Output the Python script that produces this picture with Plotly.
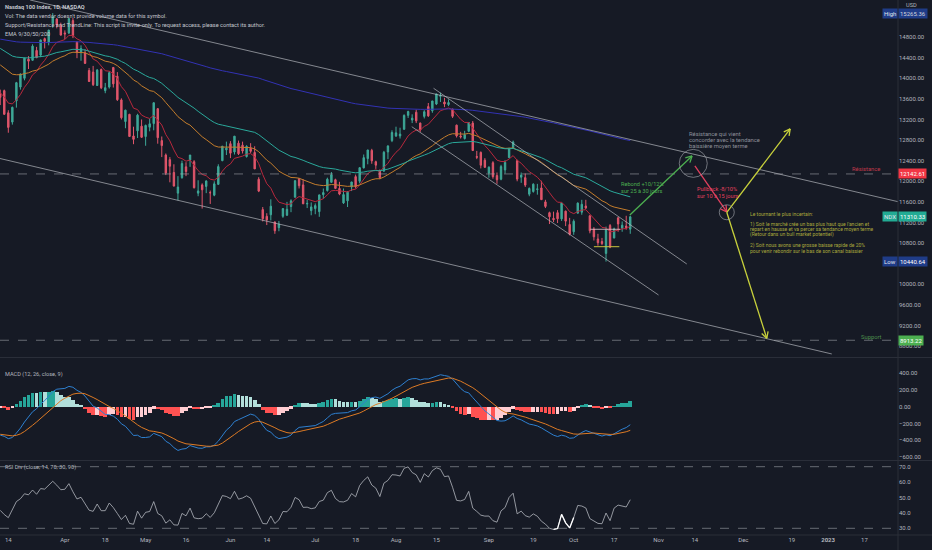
import math
import numpy as np
import pandas as pd
import plotly.graph_objects as go

# Nasdaq 100 (NDX), 1D : valeurs estimées sur la capture
holidays = ["2022-04-15", "2022-05-30", "2022-06-20", "2022-07-04", "2022-09-05",
            "2022-11-24", "2022-12-26", "2023-01-02", "2023-01-16"]
first_day = "2022-03-10"

opens = [13700, 13760,
         13330, 13150, 13560, 13830, 14000,
         14370, 14350, 14540, 14450, 14770,
         14700, 15060, 15150, 15030, 14880,
         14880, 15120, 14700, 14500, 14490,
         14150, 14120, 13860, 14170,
         13760, 13830, 14210, 14040, 13580,
         13160, 13300, 12880, 12980, 13070,
         12870, 13050, 13120, 13410, 12790,
         12510, 12420, 12170, 11770, 12070,
         12280, 12410, 12380, 11770, 11930,
         11900, 11780, 11730, 11940, 12400,
         12610, 12730, 12570, 12740,
         12700, 12480, 12640, 12560, 12040,
         11450, 11320, 11350, 11210, 11100,
         11320, 11340, 11510, 11690,
         12050, 11930, 11560, 11430, 11470,
         11410, 11740, 11820, 11980,
         12030, 11860, 11580, 11620, 11890,
         12090, 12000, 12260, 12440, 12600,
         12380, 12210, 12200, 12570, 12790,
         12880, 12880, 13010, 13280, 13190,
         13340, 13130, 13260, 13450, 13370,
         13500, 13650, 13540, 13490, 13400,
         13090, 12880, 12830, 12970, 13130,
         12480, 12560, 12410, 12160, 12360,
         12110, 12040, 12220, 12460,
         12650, 12400, 12080, 12070, 11750,
         11800, 11840, 11870, 11600, 11390,
         11280, 11390, 11270, 11420, 11160,
         11020, 11380, 11400, 11520, 11330,
         11070, 10880, 10830, 10600, 11140,
         10900, 11290, 11090, 11130, 11070]
highs = [13780, 13780,
         13380, 13450, 13930, 14090, 14400,
         14430, 14660, 14610, 14750, 14790,
         14940, 15265.36, 15170, 15080, 14930,
         15170, 15170, 14720, 14640, 14560,
         14200, 14240, 14180, 14190,
         13910, 14140, 14220, 14120, 13610,
         13390, 13310, 13060, 13310, 13200,
         13100, 13210, 13530, 13420, 12870,
         12540, 12470, 12330, 12100, 12400,
         12370, 12510, 12410, 12020, 11960,
         12020, 11820, 12000, 12330, 12685,
         12770, 12780, 12880, 12790,
         12770, 12700, 12740, 12680, 12080,
         11500, 11380, 11650, 11220, 11230,
         11480, 11600, 11650, 12020,
         12060, 12040, 11640, 11590, 11570,
         11740, 11860, 12070, 12180,
         12050, 11990, 11860, 11810, 11990,
         12130, 12270, 12520, 12610, 12630,
         12400, 12230, 12590, 12700, 12990,
         13060, 13040, 13300, 13370, 13300,
         13390, 13140, 13380, 13520, 13560,
         13700, 13720, 13620, 13590, 13410,
         13100, 12960, 12980, 13150, 13170,
         12590, 12580, 12450, 12290, 12390,
         12170, 12320, 12410, 12650,
         12790, 12420, 12170, 12150, 11880,
         11960, 11950, 12010, 11640, 11410,
         11410, 11440, 11580, 11430, 11290,
         11260, 11590, 11640, 11640, 11340,
         11110, 10980, 10900, 11120, 11170,
         11100, 11300, 11220, 11330, 11330]
lows = [13480, 13290,
        12943, 13100, 13430, 13780, 13960,
        14180, 14340, 14390, 14410, 14580,
        14640, 14980, 14970, 14830, 14760,
        14860, 14780, 14390, 14340, 14280,
        13930, 13850, 13850, 13790,
        13710, 13800, 13820, 13560, 13200,
        13030, 12860, 12720, 12840, 12840,
        12690, 12970, 12990, 12730, 12470,
        12120, 11980, 11900, 11630, 12050,
        12100, 12280, 11860, 11710, 11470,
        11770, 11560, 11710, 11930, 12390,
        12510, 12450, 12520, 12510,
        12540, 12460, 12550, 12240, 11790,
        11220, 11150, 11240, 10980, 11030,
        11290, 11330, 11400, 11690,
        11860, 11560, 11480, 11340, 11360,
        11310, 11660, 11800, 11970,
        11850, 11730, 11560, 11500, 11810,
        11860, 11960, 12250, 12330, 12340,
        12240, 12040, 12180, 12430, 12760,
        12860, 12830, 13000, 13230, 13130,
        13130, 12960, 13220, 13250, 13330,
        13480, 13540, 13440, 13460, 13230,
        12850, 12830, 12810, 12960, 12590,
        12430, 12250, 12260, 12070, 12050,
        11950, 12020, 12150, 12460,
        12640, 12000, 11970, 11890, 11710,
        11780, 11740, 11640, 11480, 11170,
        11210, 11190, 11230, 11130, 10950,
        10960, 11380, 11350, 11460, 10990,
        10850, 10750, 10760, 10440.64, 10700,
        10890, 11020, 11020, 11060, 10980]
closes = [13630, 13301,
          13046, 13436, 13915, 14084, 14392,
          14333, 14624, 14401, 14745, 14717,
          14936, 15198, 15034, 14838, 14862,
          15158, 14826, 14500, 14577, 14289,
          13937, 13875, 14159, 13815,
          13817, 14108, 13891, 13584, 13234,
          13381, 12870, 12814, 13284, 12855,
          13085, 13116, 13525, 12847, 12693,
          12161, 12293, 11907, 11888, 12344,
          12188, 12510, 11875, 11813, 11835,
          12005, 11777, 11950, 12285, 12682,
          12642, 12546, 12876, 12535,
          12588, 12678, 12582, 12240, 11809,
          11274, 11250, 11516, 11040, 11167,
          11470, 11456, 11620, 12012,
          11913, 11562, 11570, 11503, 11528,
          11736, 11780, 12040, 12125,
          11862, 11752, 11742, 11789, 11987,
          11896, 12264, 12459, 12608, 12397,
          12313, 12072, 12563, 12685, 12947,
          12940, 12916, 13279, 13354, 13225,
          13173, 12995, 13350, 13270, 13560,
          13696, 13665, 13500, 13528, 13261,
          12881, 12862, 12903, 13141, 12597,
          12466, 12312, 12272, 12274, 12090,
          12030, 12285, 12367, 12638,
          12763, 12042, 12120, 11926, 11861,
          11944, 11852, 11643, 11512, 11311,
          11255, 11272, 11576, 11226, 10971,
          11225, 11576, 11553, 11482, 11038,
          10922, 10806, 10791, 11053, 10720,
          11075, 11171, 11147, 11103, 11310.33]

# valeurs des indicateurs lues au bord gauche (10 mars)
ema_start = {9: 13720, 30: 14260, 50: 14580, 200: 14760}
macd_start = {"fast": 13800, "slow": 14140, "signal": -330}
rsi_start = {"gain": 150, "loss": 210}

tick_dates = ["2022-03-14", "2022-04-01", "2022-04-18", "2022-05-02", "2022-05-16", "2022-06-01",
              "2022-06-14", "2022-07-01", "2022-07-18", "2022-08-01", "2022-08-15", "2022-09-01",
              "2022-09-19", "2022-10-03", "2022-10-17", "2022-11-01", "2022-11-14", "2022-12-01",
              "2022-12-19", "2023-01-03", "2023-01-17"]
tick_text = ["14", "Apr", "18", "May", "16", "Jun", "14", "Jul", "18", "Aug", "15", "Sep",
             "19", "Oct", "17", "Nov", "14", "Dec", "19", "<b>2023</b>", "17"]

price_ticks = [8800, 9200, 9600, 10000, 10400, 10800, 11200, 11600, 12000, 12400,
               12800, 13200, 13600, 14000, 14400, 14800]
macd_ticks = [400, 200, 0, -200, -400, -600]
rsi_ticks = [70, 60, 50, 40, 30]

resistance = 12142.61
support = 8913.22
high_val = 15265.36
low_val = 10440.64

# tracés (numéro de bougie depuis le 14 mars, prix)
trend_lines = [(5.4, 15520, 220.3, 11604),
               (-2.1, 12443, 203.9, 8647),
               (105.3, 13806, 168.0, 10394),
               (99.9, 13060, 161.0, 9792)]
arrows = [(153.9, 11346, 169.3, 12491, "#4caf50"),
          (170.0, 12297, 177.9, 11404, "#e2405e"),
          (177.9, 11398, 193.6, 13016, "#c9d23c"),
          (177.9, 11398, 187.8, 8951, "#c9d23c")]
circles = [(169.6, 12348, 14), (177.9, 11398, 7.5)]
small_levels = [(144.1, 151.5, 11068, "rgba(230,200,210,0.8)"),
                (145.0, 151.3, 10730, "#c9c23c")]
rsi_div = ["2022-09-26", "2022-10-03"]   # segment surligné (divergence)

note_resistance = ["Résistance qui vient", "concorder avec la tendance", "baissière moyen terme"]
note_resistance_y = [12912, 12802, 12691]
note_rebond = ["Rebond +10/12%", "sur 25 à 30 jours"]
note_rebond_y = [11938, 11812]
note_pullback = ["Pullback -8/10%", "sur 10 à 15 jours"]
note_pullback_y = [11841, 11715]
note_scenarios = ["Le tournant le plus incertain:",
                  "1) Soit le marché crée un bas plus haut que l'ancien et",
                  "repart en hausse et va percer sa tendance moyen terme",
                  "(Retour dans un bull market potentiel)",
                  "2) Soit nous avons une grosse baisse rapide de 20%",
                  "pour venir rebondir sur le bas de son canal baissier"]
note_scenarios_y = [11359, 11165, 11068, 10971, 10749, 10646]


BG = "#161a25"
W, H = 932, 550
PLOT_W, MAIN_H = 898, 357
X_RANGE = [-2.06, 220.3]
Y_RANGE = [8588, 15520]

cal = pd.bdate_range(first_day, "2023-01-31", freq="C", holidays=holidays)
pos = {d: k - 2 for k, d in enumerate(cal)}
n = len(closes)
xs = [pos[d] for d in cal[:n]]
tickvals = [pos[pd.Timestamp(d)] for d in tick_dates]


def ema(values, start, span):
    a = 2 / (span + 1)
    out = [start]
    for v in values[1:]:
        out.append(out[-1] + a * (v - out[-1]))
    return out


def rsi(values, g, l, period=14):
    out = [100 - 100 / (1 + g / l)]
    for a, b in zip(values[:-1], values[1:]):
        d = b - a
        g = (g * (period - 1) + max(d, 0)) / period
        l = (l * (period - 1) + max(-d, 0)) / period
        out.append(100 - 100 / (1 + g / l))
    return out


fast = ema(closes, macd_start["fast"], 12)
slow = ema(closes, macd_start["slow"], 26)
macd = [f - s for f, s in zip(fast, slow)]
signal = ema(macd, macd_start["signal"], 9)
hist = [m - s for m, s in zip(macd, signal)]
hist_col = []
for k, h in enumerate(hist):
    prev = hist[k - 1] if k else h
    if h >= 0:
        hist_col.append("#26a69a" if h >= prev else "#b2dfdb")
    else:
        hist_col.append("#ff5252" if h < prev else "#ffcdd2")
rsi_vals = rsi(closes, rsi_start["gain"], rsi_start["loss"])

fig = go.Figure()
fig.add_trace(go.Candlestick(
    x=xs, open=opens, high=highs, low=lows, close=closes,
    increasing=dict(line=dict(color="#3ea898", width=1), fillcolor="#3ea898"),
    decreasing=dict(line=dict(color="#e0566b", width=1), fillcolor="#e0566b"),
    xaxis="x", yaxis="y", hoverinfo="skip"))

ema_cols = {9: "#b8283d", 30: "#c47d2c", 50: "#2aa99b", 200: "#3232b4"}
for span, col in ema_cols.items():
    fig.add_trace(go.Scatter(x=xs, y=ema(closes, ema_start[span], span), mode="lines",
                             line=dict(color=col, width=1), yaxis="y", hoverinfo="skip"))

fig.add_trace(go.Bar(x=xs, y=hist, marker=dict(color=hist_col, line=dict(width=0)),
                     width=0.92, yaxis="y2", hoverinfo="skip"))
fig.add_trace(go.Scatter(x=xs, y=macd, mode="lines", line=dict(color="#2e80d0", width=1), yaxis="y2"))
fig.add_trace(go.Scatter(x=xs, y=signal, mode="lines", line=dict(color="#dd7a24", width=1), yaxis="y2"))
fig.add_trace(go.Scatter(x=xs, y=rsi_vals, mode="lines", line=dict(color="#b4b7bf", width=0.8), yaxis="y3"))
d0, d1 = pos[pd.Timestamp(rsi_div[0])], pos[pd.Timestamp(rsi_div[1])]
seg = [k for k, x in enumerate(xs) if d0 <= x <= d1]
fig.add_trace(go.Scatter(x=[xs[k] for k in seg], y=[rsi_vals[k] for k in seg], mode="lines",
                         line=dict(color="#ffffff", width=1.3), yaxis="y3"))


def px(i, p):
    return ((i - X_RANGE[0]) / (X_RANGE[1] - X_RANGE[0]) * PLOT_W,
            (Y_RANGE[1] - p) / (Y_RANGE[1] - Y_RANGE[0]) * MAIN_H)


def unpx(x, y):
    return (X_RANGE[0] + x / PLOT_W * (X_RANGE[1] - X_RANGE[0]),
            Y_RANGE[1] - y / MAIN_H * (Y_RANGE[1] - Y_RANGE[0]))


shapes = []
GREY = "rgba(190,193,200,0.65)"
for i0, p0, i1, p1 in trend_lines:
    shapes.append(dict(type="line", xref="x", yref="y", x0=i0, y0=p0, x1=i1, y1=p1,
                       line=dict(color=GREY, width=1)))
for lvl in (resistance, support):
    shapes.append(dict(type="line", xref="paper", yref="y", x0=0, x1=1, y0=lvl, y1=lvl,
                       line=dict(color="rgba(170,173,180,0.55)", width=1, dash="dash")))
for i0, p0, i1, p1, col in arrows:
    shapes.append(dict(type="line", xref="x", yref="y", x0=i0, y0=p0, x1=i1, y1=p1,
                       line=dict(color=col, width=1.3)))
    x0, y0 = px(i0, p0)
    x1, y1 = px(i1, p1)
    ang = math.atan2(y1 - y0, x1 - x0)
    for s in (1, -1):
        hx = x1 + 7 * math.cos(ang + math.pi + s * 0.5)
        hy = y1 + 7 * math.sin(ang + math.pi + s * 0.5)
        hi, hp = unpx(hx, hy)
        shapes.append(dict(type="line", xref="x", yref="y", x0=i1, y0=p1, x1=hi, y1=hp,
                           line=dict(color=col, width=1.3)))
for ci, cp, r in circles:
    cx, cy = px(ci, cp)
    a0, b0 = unpx(cx - r, cy + r)
    a1, b1 = unpx(cx + r, cy - r)
    shapes.append(dict(type="circle", xref="x", yref="y", x0=a0, y0=b0, x1=a1, y1=b1,
                       line=dict(color="rgba(170,173,180,0.6)", width=1)))
for i0, i1, lvl, col in small_levels:
    shapes.append(dict(type="line", xref="x", yref="y", x0=i0, x1=i1, y0=lvl, y1=lvl,
                       line=dict(color=col, width=1)))
for lvl in (70, 30):
    shapes.append(dict(type="line", xref="paper", yref="y3", x0=0, x1=1, y0=lvl, y1=lvl,
                       line=dict(color="rgba(170,173,180,0.55)", width=1, dash="dash")))
# séparateurs de panneaux et bord de l'échelle
for yy in (1 - 357.5 / 535, 1 - 460.5 / 535, 0):
    shapes.append(dict(type="line", xref="paper", yref="paper", x0=0, x1=1.04, y0=yy, y1=yy,
                       line=dict(color="#2a2e39", width=1)))
shapes.append(dict(type="line", xref="paper", yref="paper", x0=1, x1=1, y0=-0.03, y1=1,
                   line=dict(color="#2a2e39", width=1)))

ann = []


def text(x, y, s, col, size, xref="x", yref="y", xanchor="left"):
    ann.append(dict(x=x, y=y, xref=xref, yref=yref, text=s, showarrow=False, xanchor=xanchor,
                    yanchor="middle", align="left",
                    font=dict(color=col, size=size, family="Roboto")))


legend = ["<b>Nasdaq 100 Index, 1D, NASDAQ</b>",
          "Vol: The data vendor doesn't provide volume data for this symbol.",
          "Support/Resistance and TrendLine: This script is invite-only. To request access, please contact its author.",
          "EMA 9/30/50/200"]
for k, s in enumerate(legend):
    text(3 / PLOT_W, 1 - (7.3 + 8.9 * k) / 535, s, "#c3c6ce", 5.6, xref="paper", yref="paper")
text(3 / PLOT_W, 1 - 374 / 535, "MACD (12, 26, close, 9)", "#b2b5be", 5.6, xref="paper", yref="paper")
text(3 / PLOT_W, 1 - 467 / 535, "RSI Div (close, 14, 70, 30, 90)", "#b2b5be", 5.6, xref="paper", yref="paper")
text(1 + 6 / PLOT_W, 1 - 5 / 535, "USD", "#b2b5be", 5.6, xref="paper", yref="paper")

for s, y in zip(note_resistance, note_resistance_y):
    text(168.1, y, s, "#8d9099", 5.8)
for s, y in zip(note_rebond, note_rebond_y):
    text(151.2, y, s, "#4caf50", 5.6)
for s, y in zip(note_pullback, note_pullback_y):
    text(170.0, y, s, "#e2405e", 5.6)
for s, y in zip(note_scenarios, note_scenarios_y):
    text(183.2, y, s, "#a9a83c", 5)
text(216.4, 12232, "Résistance", "#c0394b", 5.8, xanchor="right")
text(216.9, 8983, "Support", "#4c8f4c", 5.8, xanchor="right")

tags = [(high_val, "High", "#1f3c88", "#d1d4dc"),
        (closes[-1], "NDX", "#22ab94", "#ffffff"),
        (low_val, "Low", "#1f3c88", "#ffffff"),
        (resistance, None, "#f23645", "#ffffff"),
        (support, None, "#4caf50", "#ffffff")]
for val, lab, bg, fg in tags:
    ann.append(dict(x=1, y=val, xref="paper", yref="y", text=f"{val:.2f}", showarrow=False,
                    xanchor="left", yanchor="middle", bgcolor=bg, borderpad=1,
                    font=dict(color=fg, size=6, family="Roboto")))
    if lab:
        ann.append(dict(x=1, y=val, xref="paper", yref="y", text=lab, showarrow=False,
                        xanchor="right", yanchor="middle", bgcolor=bg, borderpad=1,
                        font=dict(color="#e0e3eb", size=6, family="Roboto")))

axis_font = dict(size=6, color="#b2b5be", family="Roboto")
fig.update_layout(
    width=W, height=H, margin=dict(l=0, r=34, t=0, b=15),
    paper_bgcolor=BG, plot_bgcolor=BG, showlegend=False, bargap=0, boxgap=0.5,
    xaxis=dict(domain=[0, 1], range=X_RANGE, anchor="y3", tickvals=tickvals, ticktext=tick_text,
               showgrid=False, zeroline=False, showline=False, ticks="", tickfont=axis_font,
               rangeslider=dict(visible=False)),
    yaxis=dict(domain=[1 - 357 / 535, 1], range=Y_RANGE, side="right", anchor="x",
               tickvals=price_ticks, tickformat=".2f", showgrid=False, zeroline=False,
               ticks="", tickfont=axis_font),
    yaxis2=dict(domain=[1 - 460 / 535, 1 - 358 / 535], range=[-638, 583], side="right", anchor="x",
                tickvals=macd_ticks, tickformat=".2f", showgrid=False, zeroline=False,
                ticks="", tickfont=axis_font),
    yaxis3=dict(domain=[0, 1 - 461 / 535], range=[25.65, 73.7], side="right", anchor="x",
                tickvals=rsi_ticks, tickformat=".1f", showgrid=False, zeroline=False,
                ticks="", tickfont=axis_font),
    shapes=shapes, annotations=ann,
)

fig.write_html("out.html", config={"displayModeBar": False},
               post_script="document.body.style.margin='0';document.body.style.overflow='hidden';")
